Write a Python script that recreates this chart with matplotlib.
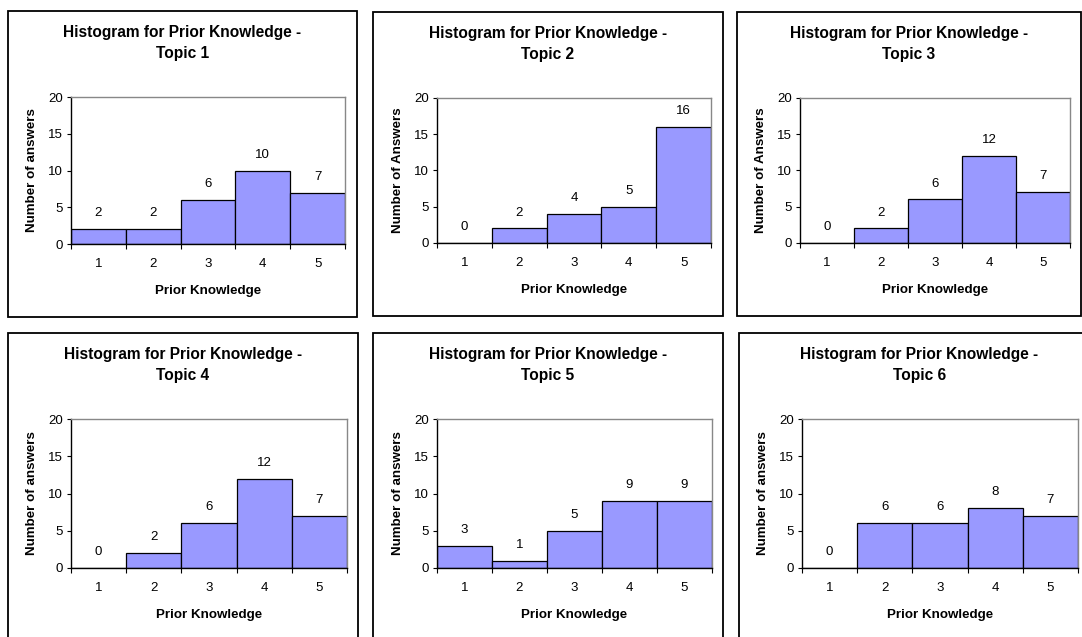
import numpy as np
import matplotlib
matplotlib.use("Agg")
import matplotlib.pyplot as plt
from matplotlib.patches import Rectangle

plt.rcParams['font.family'] = ['Liberation Sans', 'DejaVu Sans']

# data
categories = [1, 2, 3, 4, 5]
topic1 = [2, 2, 6, 10, 7]
topic2 = [0, 2, 4, 5, 16]
topic3 = [0, 2, 6, 12, 7]
topic4 = [0, 2, 6, 12, 7]
topic5 = [3, 1, 5, 9, 9]
topic6 = [0, 6, 6, 8, 7]
titles = ["Histogram for Prior Knowledge -\nTopic %d" % i for i in range(1, 7)]
ylabels = ["Number of answers", "Number of Answers", "Number of Answers",
           "Number of answers", "Number of answers", "Number of answers"]
yticks = [0, 5, 10, 15, 20]

W, H = 1082, 637
fig = plt.figure(figsize=(W / 100, H / 100), dpi=100)

# pixel layout (left, right, top, bottom)
ax_px = [(71, 345, 97, 244), (437, 711, 98, 243), (800, 1070, 98, 243),
         (71, 347, 419, 568), (437, 712, 419, 568), (802, 1078, 419, 568)]
box_px = [(8, 357, 11, 317), (373, 723, 12, 316), (737, 1081, 12, 316),
          (8, 358, 333, 660), (373, 723, 333, 660), (739, 1100, 333, 660)]
title_y = [43, 44, 44, 365, 365, 365]


def frac(l, r, t, b):
    return [l / W, 1 - b / H, (r - l) / W, (b - t) / H]


series = [topic1, topic2, topic3, topic4, topic5, topic6]
bar_color = '#9999FF'

for i, vals in enumerate(series):
    l, r, t, b = box_px[i]
    fig.patches.append(Rectangle((l / W, 1 - b / H), (r - l) / W, (b - t) / H,
                                 transform=fig.transFigure, fill=False,
                                 edgecolor='black', linewidth=1.3))
    fig.text((l + r) / 2 / W, 1 - title_y[i] / H, titles[i], ha='center',
             va='center', fontsize=11.2, fontweight='bold', linespacing=1.5)

    ax = fig.add_axes(frac(*ax_px[i]))
    ax.bar(categories, vals, width=1.0, color=bar_color, edgecolor='black',
           linewidth=0.9)
    for x, v in zip(categories, vals):
        ax.annotate(str(v), (x, v), xytext=(0, 11.5), textcoords='offset points',
                    ha='center', va='center', fontsize=9.5)
    ax.set_xlim(0.5, 5.5)
    ax.set_ylim(0, 20)
    ax.set_yticks(yticks)
    ax.set_xticks(np.arange(0.5, 6, 1.0))
    ax.set_xticklabels([])
    ax.set_xticks(categories, minor=True)
    ax.set_xticklabels([str(c) for c in categories], minor=True)
    ax.tick_params(axis='x', which='major', length=3.5, width=0.8, direction='out')
    ax.tick_params(axis='x', which='minor', length=0, pad=10, labelsize=9.5)
    ax.tick_params(axis='y', length=3, width=0.8, labelsize=9.5, pad=3)
    for side in ['top', 'right']:
        ax.spines[side].set_color('#888888')
        ax.spines[side].set_linewidth(1.0)
    for side in ['left', 'bottom']:
        ax.spines[side].set_color('black')
        ax.spines[side].set_linewidth(1.0)
    ax.set_xlabel("Prior Knowledge", fontsize=9.6, fontweight='bold', labelpad=11)
    ax.set_ylabel(ylabels[i], fontsize=9.6, fontweight='bold', labelpad=7)

fig.savefig('out.png', dpi=100)
